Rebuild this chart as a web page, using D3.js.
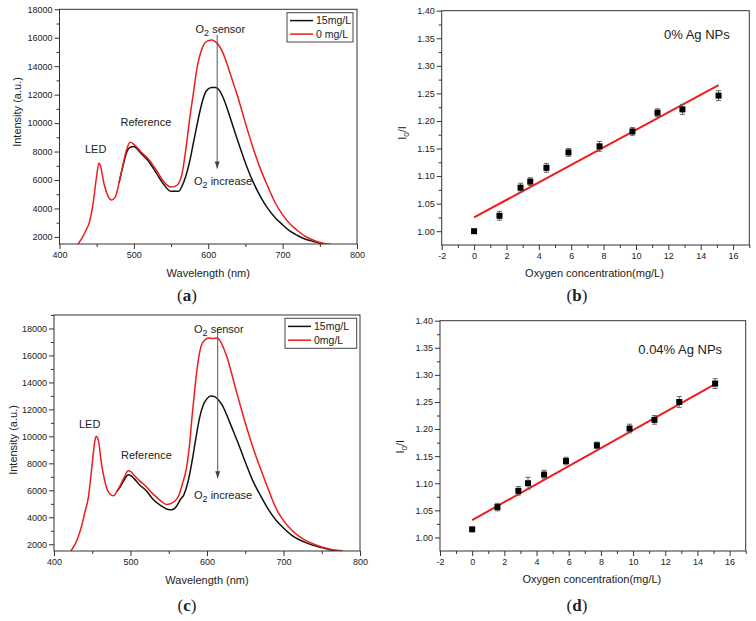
<!DOCTYPE html>
<html>
<head>
<meta charset="utf-8">
<script src="https://cdn.jsdelivr.net/npm/d3@7"></script>
<style>
body { margin: 0; background: #fff; }
svg text { font-family: "Liberation Sans", Arial, sans-serif; fill: #222; }
.cap { font-family: "Liberation Serif", "Times New Roman", serif; font-size: 17px; }
</style>
</head>
<body>
<svg id="fig" width="756" height="621"></svg>
<script>
// ---- data ----
// panel (a) spectra
var wlA0 = [425,430,435,440,445,450,453,455,460,465,470,475,480,485,490,495,500,505,510,520,530,540,550,555,560,565,570,575,580,585,590,595,600,605,610,615,620,625,630,635,640,645,650,660,670,680,690,700,710,720,730,740,750,760,770];
var intA0 = [1500,1900,2400,3000,4300,6300,7200,7000,5700,4900,4600,4800,5800,7000,8100,8650,8500,8250,7950,7450,6700,5900,5500,5550,5750,6500,8200,10300,12100,13900,15000,15600,15800,15850,15700,15400,14900,14200,13400,12600,11800,10900,10000,8300,6800,5550,4400,3550,2900,2450,2050,1800,1600,1500,1420];
var wlA15 = [480,485,490,495,500,505,510,520,530,540,550,560,565,570,575,580,585,590,595,600,605,610,615,620,625,630,640,650,660,670,680,690,700,710,720,730,740,750,760];
var intA15 = [5800,6900,7900,8300,8350,8150,7850,7300,6500,5700,5200,5200,5600,6300,7300,8600,9900,11100,12000,12400,12500,12500,12300,11800,11100,10300,8700,7200,5900,4850,4000,3350,2850,2400,2100,1850,1700,1550,1450];

// panel (c) spectra
var wlC0 = [422,430,437,440,445,450,453,455,458,462,466,470,475,478,482,487,492,497,500,505,512,520,530,540,547,552,558,563,568,573,577,581,585,589,593,598,603,608,613,618,622,626,632,640,648,656,663,670,680,690,700,710,720,730,740,750,760,770,778];
var intC0 = [1500,2300,3550,4300,5500,8000,9500,10000,9700,8000,6800,6000,5650,5600,5900,6400,7000,7450,7400,7100,6700,6300,5700,5200,4950,5000,5200,5600,6500,7600,9300,11800,14000,15800,16800,17200,17300,17250,17300,17000,16500,15900,14700,13000,11400,9900,8700,7600,6100,4700,3750,3100,2600,2250,2000,1800,1650,1550,1500];
var wlC15 = [482,487,492,497,500,505,512,520,530,540,548,554,560,565,570,575,580,585,590,595,600,605,610,615,620,625,630,635,640,650,660,670,680,690,700,710,720,730,740,750,760,770];
var intC15 = [5900,6300,6800,7150,7100,6850,6400,6000,5300,4850,4600,4550,4800,5300,5700,6600,8000,9700,11300,12300,12800,13000,12950,12700,12300,11700,11000,10300,9600,8100,6700,5600,4600,3800,3200,2700,2350,2100,1900,1750,1600,1500];

// panels (b) and (d): Stern-Volmer points
var oxygen = [0,1.57,2.87,3.47,4.47,5.83,7.75,9.78,11.33,12.87,15.1];
var ratioB = [1.000,1.028,1.079,1.090,1.115,1.143,1.154,1.181,1.215,1.221,1.246];
var errB   = [0.002,0.008,0.008,0.007,0.008,0.007,0.009,0.007,0.007,0.009,0.009];
var ratioD = [1.015,1.056,1.086,1.100,1.116,1.141,1.170,1.201,1.217,1.250,1.284];
var errD   = [0.002,0.007,0.008,0.011,0.008,0.007,0.006,0.008,0.008,0.010,0.009];
var fitX = [0, 15.1];
var fitB = [1.025, 1.265];
var fitD = [1.032, 1.283];

var specTicks = [400,500,600,700,800];
var specMinor = [450,550,650,750];
var intTicks = [2000,4000,6000,8000,10000,12000,14000,16000,18000];
var intMinorA = [3000,5000,7000,9000,11000,13000,15000,17000];
var intMinorC = [3000,5000,7000,9000,11000,13000,15000,17000,19000];
var concTicks = [-2,0,2,4,6,8,10,12,14,16];
var concMinor = [-1,1,3,5,7,9,11,13,15,17];
var ratioTicks = [1.00,1.05,1.10,1.15,1.20,1.25,1.30,1.35,1.40];
var ratioMinor = [1.025,1.075,1.125,1.175,1.225,1.275,1.325,1.375];

var RED = "#ee1c1c";
var svg = d3.select("#fig");

function styleAxis(sel) {
    sel.select(".domain").remove();
    sel.selectAll("line").attr("stroke", "#333");
    sel.selectAll("text").style("font-size", "9px").attr("fill", "#222");
}

function frame(g, b) {
    g.append("rect")
        .attr("x", b.l).attr("y", b.t)
        .attr("width", b.r - b.l).attr("height", b.b - b.t)
        .attr("fill", "none").attr("stroke", "#333").attr("stroke-width", 1);
}

function sub(text, base, s, rest, size) {
    text.append("tspan").text(base);
    text.append("tspan").attr("dy", 3).style("font-size", size).text(s);
    text.append("tspan").attr("dy", -3).text(rest);
}

var plain = function(d) { return String(d); };

function spectrum(b) {
    var g = svg.append("g");
    var x = d3.scaleLinear().domain([400, 800]).range([b.l, b.r]);
    var y = d3.scaleLinear().domain(b.yDom).range([b.b, b.t]);
    var id = "clip" + b.name;
    svg.append("clipPath").attr("id", id).append("rect")
        .attr("x", b.l).attr("y", b.t).attr("width", b.r - b.l).attr("height", b.b - b.t);

    g.append("g").attr("transform", "translate(0," + b.b + ")")
        .call(d3.axisBottom(x).tickValues(specTicks).tickSize(5).tickPadding(3).tickFormat(plain)).call(styleAxis);
    g.append("g").attr("transform", "translate(0," + b.b + ")")
        .call(d3.axisBottom(x).tickValues(specMinor).tickSize(3).tickFormat("")).call(styleAxis);
    g.append("g").attr("transform", "translate(" + b.l + ",0)")
        .call(d3.axisLeft(y).tickValues(intTicks).tickSize(5).tickPadding(2).tickFormat(plain)).call(styleAxis);
    g.append("g").attr("transform", "translate(" + b.l + ",0)")
        .call(d3.axisLeft(y).tickValues(b.minor).tickSize(3).tickFormat("")).call(styleAxis);

    var line = d3.line().curve(d3.curveMonotoneX)
        .x(function(d){ return x(d[0]); }).y(function(d){ return y(d[1]); });
    var plot = g.append("g").attr("clip-path", "url(#" + id + ")");
    plot.append("path").datum(d3.zip(b.wl15, b.int15)).attr("d", line)
        .attr("fill", "none").attr("stroke", "#111").attr("stroke-width", 1.5);
    plot.append("path").datum(d3.zip(b.wl0, b.int0)).attr("d", line)
        .attr("fill", "none").attr("stroke", RED).attr("stroke-width", 1.5);

    frame(g, b);

    // arrow
    var ax = x(b.arrow[0]);
    g.append("line").attr("x1", ax).attr("x2", ax)
        .attr("y1", y(b.arrow[1])).attr("y2", y(b.arrow[2]))
        .attr("stroke", "#555").attr("stroke-width", 1);
    g.append("path")
        .attr("d", "M" + (ax - 2.5) + "," + (y(b.arrow[2]) - 7) + "L" + ax + "," + y(b.arrow[2]) + "L" + (ax + 2.5) + "," + (y(b.arrow[2]) - 7) + "Z")
        .attr("fill", "#444");

    // annotations
    var fs = "11px";
    sub(g.append("text").attr("x", b.sensor[0]).attr("y", b.sensor[1]).style("font-size", fs), "O", "2", " sensor", "9px");
    sub(g.append("text").attr("x", b.incr[0]).attr("y", b.incr[1]).style("font-size", fs), "O", "2", " increase", "9px");
    g.append("text").attr("x", b.led[0]).attr("y", b.led[1]).style("font-size", fs).text("LED");
    g.append("text").attr("x", b.ref[0]).attr("y", b.ref[1]).style("font-size", fs).text("Reference");

    // legend
    var L = b.legend;
    g.append("rect").attr("x", L[0]).attr("y", L[1]).attr("width", L[2]).attr("height", L[3])
        .attr("fill", "#fff").attr("stroke", "#444").attr("stroke-width", 1);
    [["#111", b.labels[0]], [RED, b.labels[1]]].forEach(function(it, i) {
        var ly = L[1] + L[3] * (i === 0 ? 0.27 : 0.73);
        g.append("line").attr("x1", L[0] + 3).attr("x2", L[0] + 26).attr("y1", ly).attr("y2", ly)
            .attr("stroke", it[0]).attr("stroke-width", 1.5);
        g.append("text").attr("x", L[0] + 29).attr("y", ly + 3.5).style("font-size", "10.5px").text(it[1]);
    });

    // axis titles
    g.append("text").attr("x", (b.l + b.r) / 2).attr("y", b.b + 33).attr("text-anchor", "middle")
        .style("font-size", "11px").text("Wavelength (nm)");
    g.append("text").attr("transform", "translate(" + b.yt[0] + "," + b.yt[1] + ") rotate(-90)")
        .attr("text-anchor", "middle").attr("dy", "0.35em").style("font-size", "11px").text("Intensity (a.u.)");
}

function sternVolmer(b) {
    var g = svg.append("g");
    var x = d3.scaleLinear().domain([-2, 17]).range([b.l, b.r]);
    var y = d3.scaleLinear().domain([0.975, 1.40]).range([b.b, b.t]);

    g.append("g").attr("transform", "translate(0," + b.b + ")")
        .call(d3.axisBottom(x).tickValues(concTicks).tickSize(5).tickPadding(3).tickFormat(plain)).call(styleAxis);
    g.append("g").attr("transform", "translate(0," + b.b + ")")
        .call(d3.axisBottom(x).tickValues(concMinor).tickSize(3).tickFormat("")).call(styleAxis);
    g.append("g").attr("transform", "translate(" + b.l + ",0)")
        .call(d3.axisLeft(y).tickValues(ratioTicks).tickSize(5).tickPadding(2).tickFormat(d3.format(".2f"))).call(styleAxis);
    g.append("g").attr("transform", "translate(" + b.l + ",0)")
        .call(d3.axisLeft(y).tickValues(ratioMinor).tickSize(3).tickFormat("")).call(styleAxis);
    frame(g, b);

    // fit line
    g.append("line").attr("x1", x(fitX[0])).attr("x2", x(fitX[1]))
        .attr("y1", y(b.fit[0])).attr("y2", y(b.fit[1]))
        .attr("stroke", RED).attr("stroke-width", 2);

    var pts = oxygen.map(function(o, i){ return {x: o, v: b.vals[i], e: b.errs[i]}; });
    var eb = g.selectAll(".eb").data(pts).enter().append("g").attr("stroke", "#666").attr("stroke-width", 1);
    eb.append("line").attr("x1", function(d){ return x(d.x); }).attr("x2", function(d){ return x(d.x); })
        .attr("y1", function(d){ return y(d.v - d.e); }).attr("y2", function(d){ return y(d.v + d.e); });
    eb.append("line").attr("x1", function(d){ return x(d.x) - 2.5; }).attr("x2", function(d){ return x(d.x) + 2.5; })
        .attr("y1", function(d){ return y(d.v + d.e); }).attr("y2", function(d){ return y(d.v + d.e); });
    eb.append("line").attr("x1", function(d){ return x(d.x) - 2.5; }).attr("x2", function(d){ return x(d.x) + 2.5; })
        .attr("y1", function(d){ return y(d.v - d.e); }).attr("y2", function(d){ return y(d.v - d.e); });
    g.selectAll(".pt").data(pts).enter().append("rect")
        .attr("x", function(d){ return x(d.x) - 3; }).attr("y", function(d){ return y(d.v) - 3; })
        .attr("width", 6).attr("height", 6).attr("fill", "#000");

    g.append("text").attr("x", b.tag[0]).attr("y", b.tag[1]).style("font-size", "13px").text(b.tagText);
    g.append("text").attr("x", (b.l + b.r) / 2 - 1).attr("y", b.b + 32).attr("text-anchor", "middle")
        .style("font-size", "11px").text("Oxygen concentration(mg/L)");
    var yl = g.append("text").attr("transform", "translate(" + b.yt[0] + "," + b.yt[1] + ") rotate(-90)")
        .attr("text-anchor", "middle").attr("dy", "0.35em").style("font-size", "11px");
    sub(yl, "I", "0", "/I", "8px");
}

spectrum({name: "a", l: 59.5, r: 357, t: 9.3, b: 244, yDom: [1500, 18000], minor: intMinorA,
    wl0: wlA0, int0: intA0, wl15: wlA15, int15: intA15,
    arrow: [612, 16200, 6800], sensor: [195.5, 33], incr: [194, 185], led: [85, 153], ref: [120.5, 126],
    legend: [287, 12.7, 66, 29.3], labels: ["15mg/L", "0 mg/L"], yt: [16.7, 112]});

spectrum({name: "c", l: 54, r: 360, t: 315, b: 551, yDom: [1500, 19000], minor: intMinorC,
    wl0: wlC0, int0: intC0, wl15: wlC15, int15: intC15,
    arrow: [614, 18000, 6900], sensor: [194, 333], incr: [194, 499], led: [79, 428], ref: [121, 459],
    legend: [285, 318.3, 71.7, 30], labels: ["15mg/L", "0mg/L"], yt: [12.7, 440]});

sternVolmer({l: 441.7, r: 749.3, t: 10.7, b: 245, vals: ratioB, errs: errB, fit: fitB,
    tag: [664, 39], tagText: "0% Ag NPs", yt: [401.7, 133]});

sternVolmer({l: 440, r: 745.7, t: 320.7, b: 551, vals: ratioD, errs: errD, fit: fitD,
    tag: [638.3, 354], tagText: "0.04% Ag NPs", yt: [400, 446.7]});

// sub-figure captions
[["a", 187, 301], ["b", 577, 301], ["c", 187, 611], ["d", 577, 611]].forEach(function(c) {
    var t = svg.append("text").attr("class", "cap").attr("x", c[1]).attr("y", c[2]).attr("text-anchor", "middle");
    t.append("tspan").text("(");
    t.append("tspan").style("font-weight", "bold").text(c[0]);
    t.append("tspan").text(")");
});
</script>
</body>
</html>
